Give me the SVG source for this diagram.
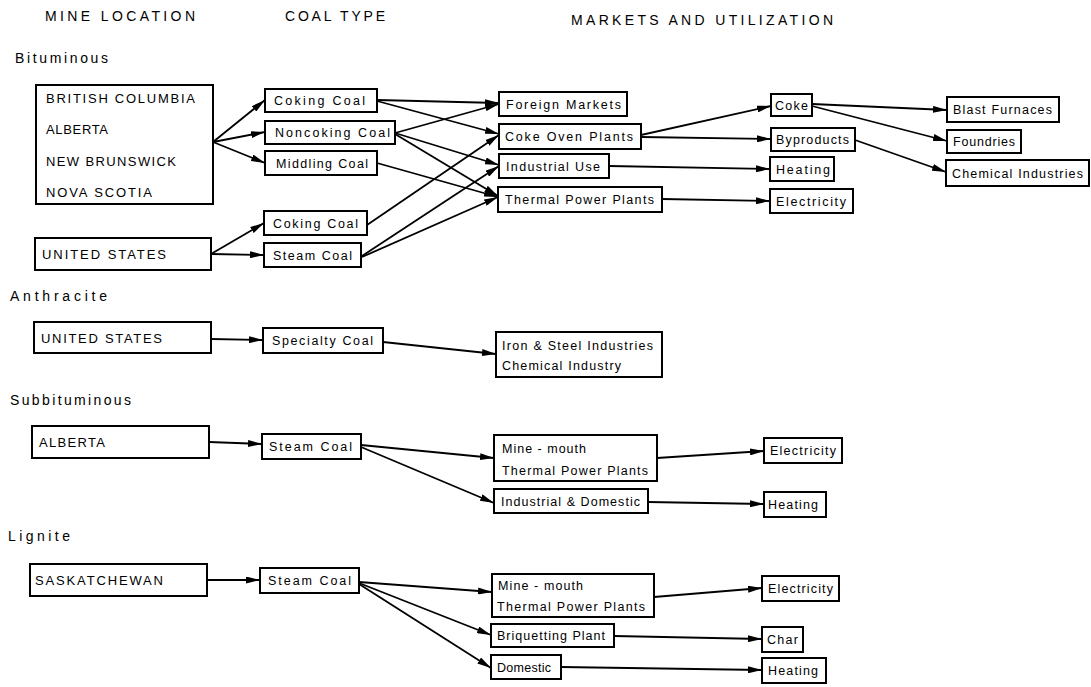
<svg xmlns="http://www.w3.org/2000/svg" width="1091" height="687" viewBox="0 0 1091 687">
<style>
rect{fill:#fff;stroke:#000;stroke-width:2}
text{font-family:"Liberation Sans",Arial,sans-serif;fill:#000}
.h{font-size:14px}
.s{font-size:14px}
.c{font-size:13px}
.t{font-size:12.5px}
.e line{stroke:#000;stroke-width:1.8;marker-end:url(#ah)}
</style>
<defs>
<marker id="ah" viewBox="0 0 14 7" refX="14" refY="3.5" markerWidth="14" markerHeight="7" orient="auto" markerUnits="userSpaceOnUse"><path d="M0,0 L14,3.5 L0,7 z" fill="#000"/></marker>
</defs>
<rect x="0" y="0" width="1091" height="687" style="stroke:none"/>
<g id="headers">
<text class="h" x="45" y="21" textLength="150" lengthAdjust="spacing">MINE LOCATION</text>
<text class="h" x="285" y="21" textLength="100" lengthAdjust="spacing">COAL TYPE</text>
<text class="h" x="571" y="25" textLength="262" lengthAdjust="spacing">MARKETS AND UTILIZATION</text>
<text class="s" x="15" y="63" textLength="93" lengthAdjust="spacing">Bituminous</text>
<text class="s" x="10" y="301" textLength="97" lengthAdjust="spacing">Anthracite</text>
<text class="s" x="10" y="405" textLength="121" lengthAdjust="spacing">Subbituminous</text>
<text class="s" x="8" y="541" textLength="62" lengthAdjust="spacing">Lignite</text>
</g>
<g class="e" id="connectors">
<line x1="213" y1="142" x2="265" y2="100"/>
<line x1="213" y1="142" x2="265" y2="132"/>
<line x1="213" y1="142" x2="265" y2="163"/>
<line x1="211" y1="254" x2="264" y2="223"/>
<line x1="211" y1="254" x2="264" y2="255"/>
<line x1="377" y1="100" x2="499" y2="103"/>
<line x1="377" y1="101" x2="499" y2="134"/>
<line x1="395" y1="133" x2="499" y2="104"/>
<line x1="395" y1="133" x2="499" y2="165"/>
<line x1="395" y1="134" x2="498" y2="196"/>
<line x1="377" y1="163" x2="498" y2="197"/>
<line x1="367" y1="225" x2="499" y2="135"/>
<line x1="362" y1="256" x2="499" y2="166"/>
<line x1="362" y1="257" x2="498" y2="197"/>
<line x1="641" y1="135" x2="771" y2="106"/>
<line x1="641" y1="137" x2="771" y2="139"/>
<line x1="609" y1="166" x2="770" y2="169"/>
<line x1="662" y1="199" x2="770" y2="201"/>
<line x1="812" y1="104" x2="947" y2="110"/>
<line x1="812" y1="106" x2="947" y2="141"/>
<line x1="855" y1="140" x2="946" y2="172"/>
<line x1="211" y1="339" x2="263" y2="340"/>
<line x1="383" y1="342" x2="496" y2="354"/>
<line x1="209" y1="442" x2="262" y2="444"/>
<line x1="361" y1="445" x2="494" y2="458"/>
<line x1="361" y1="447" x2="494" y2="503"/>
<line x1="657" y1="458" x2="764" y2="451"/>
<line x1="648" y1="502" x2="764" y2="504"/>
<line x1="207" y1="580" x2="260" y2="580"/>
<line x1="359" y1="582" x2="492" y2="592"/>
<line x1="359" y1="583" x2="491" y2="635"/>
<line x1="359" y1="584" x2="491" y2="668"/>
<line x1="654" y1="597" x2="762" y2="588"/>
<line x1="614" y1="636" x2="762" y2="639"/>
<line x1="561" y1="667" x2="762" y2="670"/>
</g>
<g id="bit-canada"><rect x="36" y="85" width="177" height="119"/>
<text class="c" x="46" y="103" textLength="149" lengthAdjust="spacing">BRITISH COLUMBIA</text>
<text class="c" x="46" y="134" textLength="62" lengthAdjust="spacing">ALBERTA</text>
<text class="c" x="46" y="166" textLength="130" lengthAdjust="spacing">NEW BRUNSWICK</text>
<text class="c" x="46" y="197" textLength="106" lengthAdjust="spacing">NOVA SCOTIA</text></g>
<g id="bit-us"><rect x="35" y="238" width="176" height="32"/><text class="c" x="42" y="259" textLength="124" lengthAdjust="spacing">UNITED STATES</text></g>
<g id="coking1"><rect x="265" y="89" width="112" height="23"/><text class="t" x="274" y="105" textLength="91" lengthAdjust="spacing">Coking Coal</text></g>
<g id="noncoking"><rect x="265" y="121" width="130" height="23"/><text class="t" x="275" y="137" textLength="115" lengthAdjust="spacing">Noncoking Coal</text></g>
<g id="middling"><rect x="265" y="151" width="112" height="24"/><text class="t" x="276" y="168" textLength="92" lengthAdjust="spacing">Middling Coal</text></g>
<g id="coking2"><rect x="264" y="211" width="103" height="24"/><text class="t" x="273" y="228" textLength="85" lengthAdjust="spacing">Coking Coal</text></g>
<g id="steam1"><rect x="264" y="243" width="97" height="24"/><text class="t" x="273" y="260" textLength="79" lengthAdjust="spacing">Steam Coal</text></g>
<g id="foreign"><rect x="499" y="92" width="128" height="24"/><text class="t" x="506" y="109" textLength="115" lengthAdjust="spacing">Foreign Markets</text></g>
<g id="cokeoven"><rect x="499" y="124" width="142" height="25"/><text class="t" x="505" y="141" textLength="128" lengthAdjust="spacing">Coke Oven Plants</text></g>
<g id="industrial"><rect x="499" y="154" width="110" height="24"/><text class="t" x="506" y="171" textLength="94" lengthAdjust="spacing">Industrial Use</text></g>
<g id="thermal"><rect x="498" y="187" width="164" height="25"/><text class="t" x="505" y="204" textLength="149" lengthAdjust="spacing">Thermal Power Plants</text></g>
<g id="coke"><rect x="771" y="94" width="41" height="22"/><text class="t" x="775" y="110" textLength="33" lengthAdjust="spacing">Coke</text></g>
<g id="byproducts"><rect x="771" y="128" width="84" height="23"/><text class="t" x="776" y="144" textLength="73" lengthAdjust="spacing">Byproducts</text></g>
<g id="heating1"><rect x="770" y="157" width="64" height="24"/><text class="t" x="776" y="174" textLength="54" lengthAdjust="spacing">Heating</text></g>
<g id="elec1"><rect x="770" y="189" width="83" height="24"/><text class="t" x="776" y="206" textLength="70" lengthAdjust="spacing">Electricity</text></g>
<g id="blast"><rect x="947" y="97" width="112" height="25"/><text class="t" x="953" y="114" textLength="99" lengthAdjust="spacing">Blast Furnaces</text></g>
<g id="foundries"><rect x="947" y="130" width="74" height="23"/><text class="t" x="953" y="146" textLength="62" lengthAdjust="spacing">Foundries</text></g>
<g id="chemical"><rect x="946" y="160" width="143" height="26"/><text class="t" x="952" y="178" textLength="131" lengthAdjust="spacing">Chemical Industries</text></g>
<g id="ant-us"><rect x="34" y="322" width="177" height="31"/><text class="c" x="41" y="343" textLength="121" lengthAdjust="spacing">UNITED STATES</text></g>
<g id="specialty"><rect x="263" y="328" width="120" height="25"/><text class="t" x="272" y="345" textLength="101" lengthAdjust="spacing">Specialty Coal</text></g>
<g id="ironsteel"><rect x="496" y="332" width="166" height="45"/>
<text class="t" x="502" y="350" textLength="151" lengthAdjust="spacing">Iron &amp; Steel Industries</text>
<text class="t" x="502" y="370" textLength="119" lengthAdjust="spacing">Chemical Industry</text></g>
<g id="sub-alberta"><rect x="32" y="426" width="177" height="32"/><text class="c" x="39" y="447" textLength="66" lengthAdjust="spacing">ALBERTA</text></g>
<g id="steam2"><rect x="262" y="434" width="99" height="25"/><text class="t" x="269" y="451" textLength="83" lengthAdjust="spacing">Steam Coal</text></g>
<g id="minemouth1"><rect x="494" y="435" width="163" height="46"/>
<text class="t" x="502" y="453" textLength="84" lengthAdjust="spacing">Mine - mouth</text>
<text class="t" x="502" y="475" textLength="146" lengthAdjust="spacing">Thermal Power Plants</text></g>
<g id="inddom"><rect x="494" y="489" width="154" height="24"/><text class="t" x="501" y="506" textLength="139" lengthAdjust="spacing">Industrial &amp; Domestic</text></g>
<g id="elec2"><rect x="764" y="438" width="78" height="25"/><text class="t" x="770" y="455" textLength="66" lengthAdjust="spacing">Electricity</text></g>
<g id="heating2"><rect x="764" y="492" width="62" height="25"/><text class="t" x="768" y="509" textLength="50" lengthAdjust="spacing">Heating</text></g>
<g id="sask"><rect x="30" y="564" width="177" height="32"/><text class="c" x="35" y="585" textLength="128" lengthAdjust="spacing">SASKATCHEWAN</text></g>
<g id="steam3"><rect x="260" y="568" width="99" height="25"/><text class="t" x="268" y="585" textLength="83" lengthAdjust="spacing">Steam Coal</text></g>
<g id="minemouth2"><rect x="492" y="574" width="162" height="43"/>
<text class="t" x="498" y="590" textLength="85" lengthAdjust="spacing">Mine - mouth</text>
<text class="t" x="497" y="611" textLength="148" lengthAdjust="spacing">Thermal Power Plants</text></g>
<g id="briquetting"><rect x="491" y="624" width="123" height="23"/><text class="t" x="497" y="640" textLength="108" lengthAdjust="spacing">Briquetting Plant</text></g>
<g id="domestic"><rect x="491" y="655" width="70" height="24"/><text class="t" x="497" y="672" textLength="54" lengthAdjust="spacing">Domestic</text></g>
<g id="elec3"><rect x="762" y="576" width="77" height="25"/><text class="t" x="768" y="593" textLength="65" lengthAdjust="spacing">Electricity</text></g>
<g id="char"><rect x="762" y="627" width="41" height="25"/><text class="t" x="767" y="644" textLength="31" lengthAdjust="spacing">Char</text></g>
<g id="heating3"><rect x="762" y="658" width="64" height="25"/><text class="t" x="768" y="675" textLength="50" lengthAdjust="spacing">Heating</text></g>
</svg>
